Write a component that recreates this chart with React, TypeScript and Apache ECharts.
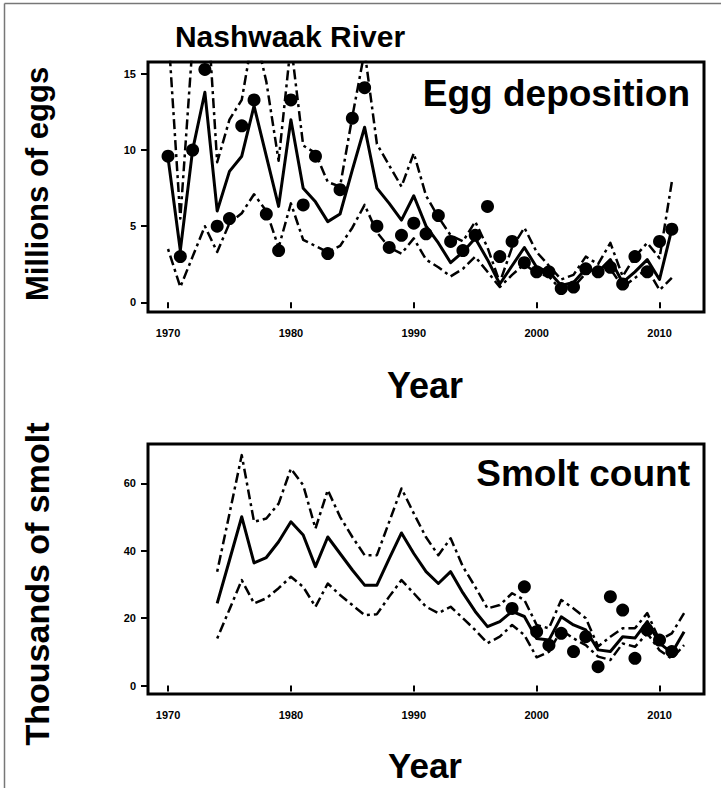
import React, { useEffect, useRef } from "react";
import * as echarts from "echarts";

// Egg deposition, millions of eggs
const eggYears = [
  1970, 1971, 1972, 1973, 1974, 1975, 1976, 1977, 1978, 1979,
  1980, 1981, 1982, 1983, 1984, 1985, 1986, 1987, 1988, 1989,
  1990, 1991, 1992, 1993, 1994, 1995, 1996, 1997, 1998, 1999,
  2000, 2001, 2002, 2003, 2004, 2005, 2006, 2007, 2008, 2009,
  2010, 2011,
];
const eggObserved = [
  9.6, 3.0, 10.0, 15.3, 5.0, 5.5, 11.6, 13.3, 5.8, 3.4,
  13.3, 6.4, 9.6, 3.2, 7.4, 12.1, 14.1, 5.0, 3.6, 4.4,
  5.2, 4.5, 5.7, 4.0, 3.4, 4.4, 6.3, 3.0, 4.0, 2.6,
  2.0, 2.0, 0.9, 1.0, 2.2, 2.0, 2.3, 1.2, 3.0, 2.0,
  4.0, 4.8,
];
const eggMedian = [
  9.5, 3.4, 10.0, 13.8, 6.0, 8.6, 9.6, 12.9, 9.6, 6.3,
  12.0, 7.5, 6.6, 5.3, 5.8, 8.7, 11.5, 7.5, 6.5, 5.4,
  7.0, 5.0, 3.9, 2.6, 3.3, 4.2, 2.8, 1.2, 2.4, 3.6,
  2.3, 2.0, 1.1, 1.3, 2.2, 2.0, 2.8, 1.3, 2.0, 2.8,
  1.5, 4.8,
];
const eggUpper = [
  18.0, 5.5, 17.0, 22.0, 9.2, 12.0, 13.3, 18.0, 14.5, 9.3,
  17.0, 10.3, 9.8, 7.9, 7.6, 12.2, 16.5, 10.4, 9.0, 7.6,
  9.8, 7.0, 5.6, 4.4, 4.0, 5.3, 3.6, 1.3, 3.6, 4.9,
  3.3, 2.4, 1.5, 1.8, 3.0, 2.5, 3.9, 1.7, 3.0, 3.9,
  2.9, 7.9,
];
const eggLower = [
  3.5, 1.0, 3.0, 5.0, 3.3, 5.2, 5.85, 7.1, 6.0, 3.6,
  6.5, 4.1, 3.7, 3.3, 3.7, 4.9, 6.4, 4.6, 3.6, 3.2,
  4.2, 2.8, 2.3, 1.7, 2.2, 3.0, 2.0, 1.0, 1.8, 2.5,
  1.9, 1.7, 0.8, 1.0, 1.9, 1.8, 2.2, 1.0, 1.6, 2.2,
  0.8, 1.6,
];

// Smolt, thousands
const smoltModelYears = [
  1974, 1975, 1976, 1977, 1978, 1979,
  1980, 1981, 1982, 1983, 1984, 1985, 1986, 1987, 1988, 1989,
  1990, 1991, 1992, 1993, 1994, 1995, 1996, 1997, 1998, 1999,
  2000, 2001, 2002, 2003, 2004, 2005, 2006, 2007, 2008, 2009,
  2010, 2011, 2012,
];
const smoltMedian = [
  24.4, 37.2, 50.1, 36.4, 38.0, 42.7,
  48.6, 44.7, 35.3, 44.1, 39.2, 34.3, 29.8, 29.8, 37.7, 45.3,
  39.2, 33.8, 30.3, 33.8, 27.5, 22.0, 17.5, 19.0, 22.0, 20.5,
  14.0, 13.5, 20.4, 18.0, 16.5, 10.6, 10.1, 14.5, 14.1, 19.0,
  12.6, 9.7, 16.0,
];
const smoltUpper = [
  33.8, 51.0, 68.4, 48.6, 49.6, 54.0,
  64.4, 59.5, 46.6, 58.0, 50.1, 44.1, 38.7, 38.7, 48.6, 58.5,
  51.1, 44.0, 38.7, 43.7, 35.3, 29.3, 22.9, 23.9, 27.4, 25.4,
  18.0, 17.0, 25.4, 22.9, 20.0, 11.6, 14.5, 17.0, 17.0, 21.5,
  13.5, 15.5, 21.5,
];
const smoltLower = [
  14.0, 22.6, 31.3, 24.4, 25.9, 28.9,
  32.3, 29.3, 23.4, 30.3, 26.9, 23.9, 20.9, 21.2, 26.4, 31.3,
  27.4, 23.4, 21.5, 23.4, 20.0, 16.5, 12.6, 14.5, 18.0, 15.0,
  8.4, 10.0, 16.5, 14.0, 12.0, 8.6, 7.6, 12.5, 11.5, 15.5,
  10.5, 8.0, 12.0,
];
const smoltCountYears = [
  1998, 1999, 2000, 2001, 2002, 2003, 2004, 2005, 2006, 2007,
  2008, 2009, 2010, 2011,
];
const smoltObserved = [
  22.9, 29.3, 16.0, 12.0, 15.5, 10.1, 14.5, 5.6, 26.4, 22.4,
  8.1, 16.5, 13.5, 10.1,
];

const yearTicks = [1970, 1980, 1990, 2000, 2010];
const eggTicks = [0, 5, 10, 15];
const smoltTicks = [0, 20, 40, 60];

const FONT = "'Liberation Sans', Arial, Helvetica, sans-serif";
const DOT_DASH = [3, 4, 10, 4];

const zip = (xs: number[], ys: number[]) => xs.map((x, i) => [x, ys[i]]);

function xAxisFor(gridIndex: number) {
  return {
    type: "value",
    gridIndex,
    min: 1968.37,
    max: 2013.62,
    axisLine: { show: false },
    splitLine: { show: false },
    axisTick: {
      show: true,
      inside: false,
      length: 6,
      customValues: yearTicks,
      lineStyle: { color: "#000", width: 2 },
    },
    axisLabel: {
      customValues: yearTicks,
      formatter: (v: number) => String(Math.round(v)),
      color: "#000",
      fontSize: 11,
      fontWeight: "bold",
      fontFamily: FONT,
      margin: 15,
    },
  };
}

function yAxisFor(gridIndex: number, min: number, max: number, ticks: number[]) {
  return {
    type: "value",
    gridIndex,
    min,
    max,
    axisLine: { show: false },
    splitLine: { show: false },
    axisTick: {
      show: true,
      inside: false,
      length: 7,
      customValues: ticks,
      lineStyle: { color: "#000", width: 2 },
    },
    axisLabel: {
      customValues: ticks,
      formatter: (v: number) => String(Math.round(v)),
      color: "#000",
      fontSize: 11,
      fontWeight: "bold",
      fontFamily: FONT,
      margin: 12,
    },
  };
}

function band(idx: number, years: number[], vals: number[], dashed: boolean) {
  return {
    type: "line",
    xAxisIndex: idx,
    yAxisIndex: idx,
    data: zip(years, vals),
    symbol: "none",
    clip: true,
    lineStyle: {
      color: "#000",
      width: dashed ? 2.5 : 3,
      type: dashed ? DOT_DASH : "solid",
      cap: "butt",
      join: "round",
    },
    z: 2,
  };
}

function dots(idx: number, years: number[], vals: number[]) {
  return {
    type: "scatter",
    xAxisIndex: idx,
    yAxisIndex: idx,
    data: zip(years, vals),
    symbol: "circle",
    symbolSize: 13,
    itemStyle: { color: "#000", opacity: 1 },
    clip: true,
    z: 3,
  };
}

export default function App() {
  const ref = useRef<HTMLDivElement>(null);

  useEffect(() => {
    if (!ref.current) return;
    const chart = echarts.init(ref.current, null, { renderer: "svg" });
    const bigText = (text: string, x: number, y: number, size: number, extra: any = {}) => ({
      type: "text",
      x,
      y,
      rotation: extra.rotation || 0,
      style: {
        text,
        fill: "#000",
        font: `bold ${size}px ${FONT}`,
        align: extra.align || "center",
        verticalAlign: "middle",
      },
    });

    chart.setOption({
      animation: false,
      backgroundColor: "#fff",
      grid: [
        { left: 148, top: 62, width: 556, height: 250, show: true, borderColor: "#000", borderWidth: 3, backgroundColor: "transparent" },
        { left: 148, top: 444, width: 556, height: 250, show: true, borderColor: "#000", borderWidth: 3, backgroundColor: "transparent" },
      ],
      xAxis: [xAxisFor(0), xAxisFor(1)],
      yAxis: [
        yAxisFor(0, -0.64, 15.79, eggTicks),
        yAxisFor(1, -2.5, 71.7, smoltTicks),
      ],
      series: [
        band(0, eggYears, eggUpper, true),
        band(0, eggYears, eggLower, true),
        band(0, eggYears, eggMedian, false),
        dots(0, eggYears, eggObserved),
        band(1, smoltModelYears, smoltUpper, true),
        band(1, smoltModelYears, smoltLower, true),
        band(1, smoltModelYears, smoltMedian, false),
        dots(1, smoltCountYears, smoltObserved),
      ],
      graphic: [
        { type: "line", shape: { x1: 4.5, y1: 3.5, x2: 721, y2: 3.5 }, style: { stroke: "#777", lineWidth: 1.5 } },
        { type: "line", shape: { x1: 4.5, y1: 3.5, x2: 4.5, y2: 788 }, style: { stroke: "#777", lineWidth: 1.5 } },
        bigText("Nashwaak River", 290, 36, 30),
        bigText("Egg deposition", 690, 93, 37, { align: "right" }),
        bigText("Smolt count", 690, 473, 37, { align: "right" }),
        bigText("Year", 425, 385, 36),
        bigText("Year", 425, 765, 35),
        bigText("Millions of eggs", 37, 184, 31, { rotation: Math.PI / 2 }),
        bigText("Thousands of smolt", 37, 584, 34, { rotation: Math.PI / 2 }),
      ],
    });
    return () => chart.dispose();
  }, []);

  return (
    <div
      ref={ref}
      style={{ position: "fixed", left: 0, top: 0, width: 721, height: 788, background: "#fff" }}
    />
  );
}
